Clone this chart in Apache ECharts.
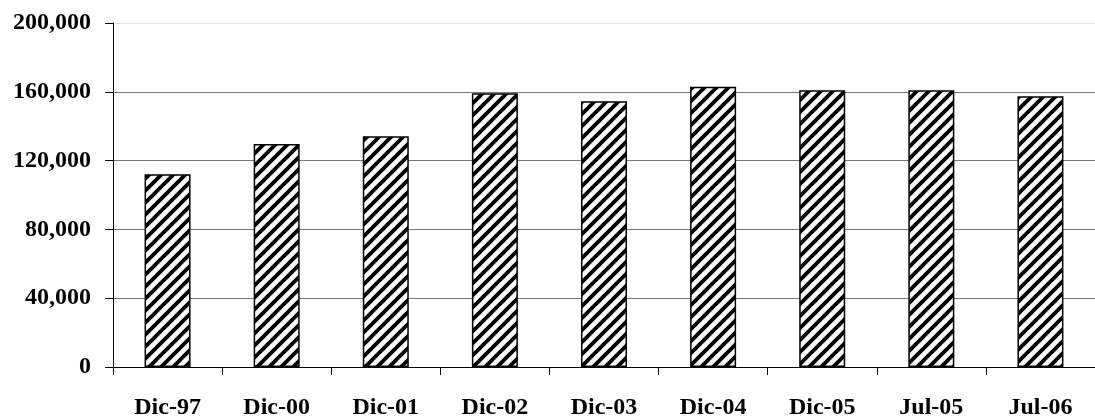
<!DOCTYPE html>
<html>
<head>
<meta charset="utf-8">
<style>
  html, body { margin: 0; padding: 0; background: #fff; }
  #chart { width: 1095px; height: 420px; }
</style>
<script src="https://cdn.jsdelivr.net/npm/echarts@6/dist/echarts.min.js"></script>
</head>
<body>
<div id="chart"></div>
<script>
// Periods shown on the category axis
const categories = ['Dic-97', 'Dic-00', 'Dic-01', 'Dic-02', 'Dic-03', 'Dic-04', 'Dic-05', 'Jul-05', 'Jul-06'];
// Value of each period
const values = [112100, 129600, 134200, 159200, 154500, 163000, 160900, 160900, 157400];
// Value axis scale
const yMin = 0;
const yMax = 200000;
const yStep = 40000;

// Diagonal "/" hatch fill used for the bars
function makeHatch(size, width) {
  const c = document.createElement('canvas');
  c.width = size;
  c.height = size;
  const ctx = c.getContext('2d');
  ctx.fillStyle = '#ffffff';
  ctx.fillRect(0, 0, size, size);
  ctx.strokeStyle = '#000000';
  ctx.lineWidth = width;
  ctx.lineCap = 'square';
  for (let k = -1; k <= 1; k++) {
    ctx.beginPath();
    ctx.moveTo(k * size, size);
    ctx.lineTo(k * size + size, 0);
    ctx.stroke();
  }
  return c;
}

const FONT = "'Liberation Serif', 'Times New Roman', serif";
const chart = echarts.init(document.getElementById('chart'), null, { renderer: 'canvas' });

chart.setOption({
  backgroundColor: '#ffffff',
  animation: false,
  grid: { left: 113, top: 23, width: 992, height: 348.7, containLabel: false },
  xAxis: {
    type: 'category',
    data: categories,
    boundaryGap: true,
    axisLine: { show: true, lineStyle: { color: '#000', width: 1 } },
    axisTick: { show: true, alignWithLabel: false, length: 8, lineStyle: { color: '#000', width: 1 } },
    axisLabel: {
      margin: 29,
      color: '#000',
      fontFamily: FONT,
      fontWeight: 'bold',
      fontSize: 24
    },
    splitLine: { show: false }
  },
  yAxis: {
    type: 'value',
    min: yMin,
    max: yMax,
    interval: yStep,
    axisLine: { show: true, lineStyle: { color: '#000', width: 1 } },
    axisTick: { show: true, length: 8, lineStyle: { color: '#000', width: 1 } },
    axisLabel: {
      margin: 22,
      color: '#000',
      fontFamily: FONT,
      fontWeight: 'bold',
      fontSize: 24,
      formatter: v => v.toLocaleString('en-US')
    },
    splitLine: {
      show: true,
      lineStyle: { color: ['#777', '#777', '#777', '#777', '#777', '#e2e2e2'], width: 1 }
    }
  },
  series: [{
    type: 'bar',
    data: values,
    barWidth: 46,
    itemStyle: {
      color: { image: makeHatch(12, 3.8), repeat: 'repeat' },
      borderColor: '#000',
      borderWidth: 1.5
    }
  }]
});
</script>
</body>
</html>
